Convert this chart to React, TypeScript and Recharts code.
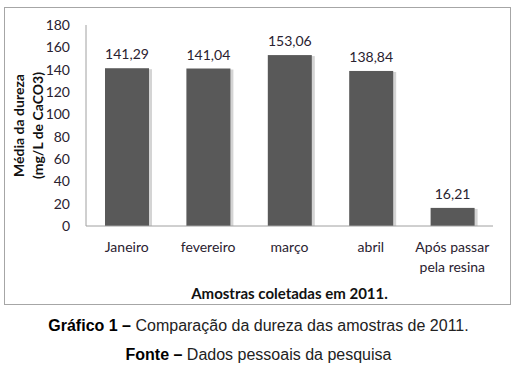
import { BarChart, Bar, XAxis, YAxis, LabelList } from "recharts";

const categories = ["Janeiro", "fevereiro", "março", "abril", "Após passar pela resina"];
const dureza = [141.29, 141.04, 153.06, 138.84, 16.21];
const yTicks = [0, 20, 40, 60, 80, 100, 120, 140, 160, 180];

const data = categories.map((name, i) => ({ name, value: dureza[i] }));

const FONT = "Lato, 'Open Sans', sans-serif";
const TEXT = "#2a2230";

// bar with a soft grey shadow on the right, like the old Excel style
function ShadowBar(props: any) {
  const { x, y, width, height, fill } = props;
  return (
    <g>
      <rect x={x + 3} y={y + 1} width={width} height={height - 1} fill="#d4d4d4" />
      <rect x={x} y={y} width={width} height={height} fill={fill} />
    </g>
  );
}

function CategoryTick(props: any) {
  const { x, y, payload } = props;
  const words = String(payload.value).split(" ");
  const lines = words.length > 2 ? [words.slice(0, 2).join(" "), words.slice(2).join(" ")] : [payload.value];
  return (
    <text x={x} y={y} textAnchor="middle" fill={TEXT} fontSize={14} fontFamily={FONT}>
      {lines.map((l: string, i: number) => (
        <tspan key={i} x={x} dy={i === 0 ? 14 : 20}>
          {l}
        </tspan>
      ))}
    </text>
  );
}

function YTitle(props: any) {
  const { viewBox } = props;
  const cy = viewBox.y + viewBox.height / 2;
  return (
    <g>
      <text x={13} y={cy} transform={`rotate(-90 13 ${cy})`} textAnchor="middle" dominantBaseline="central" fontSize={14} fontWeight="bold" fontFamily={FONT} fill="#111">
        Média da dureza
      </text>
      <text x={32} y={cy} transform={`rotate(-90 32 ${cy})`} textAnchor="middle" dominantBaseline="central" fontSize={14} fontWeight="bold" fontFamily={FONT} fill="#111">
        (mg/L de CaCO3)
      </text>
    </g>
  );
}

export default function App() {
  return (
    <div style={{ position: "fixed", left: 0, top: 0, width: 517, height: 367, background: "#fff" }}>
      <div style={{ position: "absolute", left: 4, top: 7, width: 505, height: 296, border: "1px solid #a6a6a6" }}>
        <BarChart width={505} height={296} data={data} margin={{ top: 17, right: 17, left: 0, bottom: 0 }} barSize={44}>
          <XAxis
            dataKey="name"
            axisLine={{ stroke: "#a0a0a0" }}
            tickLine={false}
            tickSize={0}
            tickMargin={12}
            height={78}
            interval={0}
            tick={<CategoryTick />}
            label={{ value: "Amostras coletadas  em 2011.", position: "insideBottom", offset: 5, fontSize: 15, fontWeight: "bold", fontFamily: FONT, fill: "#111" }}
          />
          <YAxis
            domain={[0, 180]}
            ticks={yTicks}
            width={81}
            axisLine={{ stroke: "#a0a0a0" }}
            tickLine={false}
            tickSize={0}
            tickMargin={16}
            tick={{ fontSize: 14, fontFamily: FONT, fill: TEXT }}
            label={<YTitle />}
          />
          <Bar dataKey="value" fill="#595959" isAnimationActive={false} shape={<ShadowBar />}>
            <LabelList
              dataKey="value"
              position="top"
              offset={9}
              formatter={(v: any) => Number(v).toFixed(2).replace(".", ",")}
              style={{ fontSize: 14, fontFamily: FONT, fill: TEXT }}
            />
          </Bar>
        </BarChart>
      </div>
      <div style={{ position: "absolute", left: 0, top: 317, width: 517, textAlign: "center", fontFamily: "'Liberation Sans', Arial, sans-serif", fontSize: 16, color: "#222" }}>
        <b style={{ color: "#000" }}>Gráfico 1 –</b> Comparação da dureza das amostras de 2011.
      </div>
      <div style={{ position: "absolute", left: 0, top: 346, width: 517, textAlign: "center", fontFamily: "'Liberation Sans', Arial, sans-serif", fontSize: 16, color: "#222" }}>
        <b style={{ color: "#000" }}>Fonte –</b> Dados pessoais da pesquisa
      </div>
    </div>
  );
}
